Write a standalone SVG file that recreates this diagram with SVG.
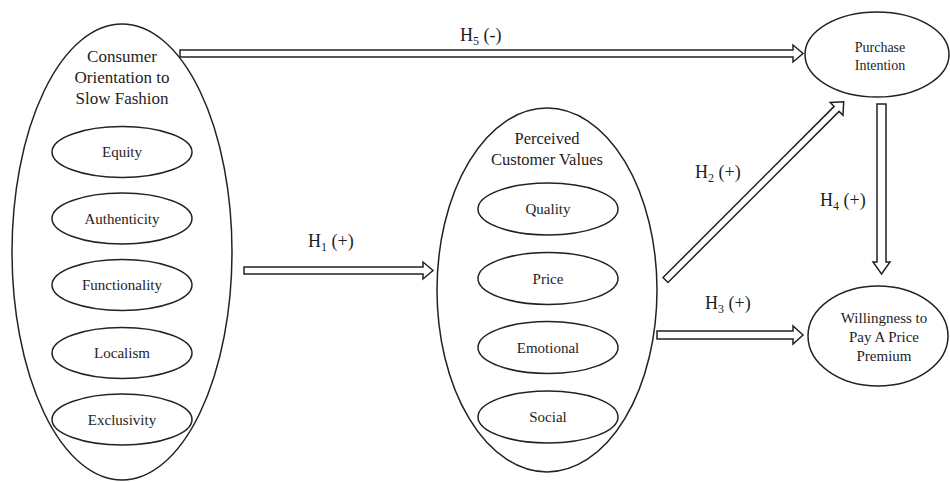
<svg xmlns="http://www.w3.org/2000/svg" width="950" height="482" viewBox="0 0 950 482">
  <style>
    .bg { fill: #ffffff; }
    .oval { fill: #ffffff; stroke: #222; stroke-width: 1.5; }
    .item { fill: none; stroke: #222; stroke-width: 1.5; }
    .arrow { fill: #ffffff; stroke: #222; stroke-width: 1.5; stroke-linejoin: miter; }
    text { font-family: "Liberation Serif", "Times New Roman", serif; fill: #1e1e1e; text-anchor: middle; }
    .title { font-size: 17px; }
    .title2 { font-size: 16.5px; }
    .lbl { font-size: 15px; }
    .small { font-size: 14px; }
    .hyp { font-size: 18px; text-anchor: start; }
    .sub { font-size: 12px; }
  </style>
  <rect class="bg" x="0" y="0" width="950" height="482"/>

  <!-- Consumer orientation construct with its five dimensions -->
  <g id="orientation">
    <ellipse class="oval" cx="122" cy="252" rx="110" ry="228"/>
    <text class="title" x="122" y="62">Consumer</text>
    <text class="title" x="122" y="83">Orientation to</text>
    <text class="title" x="122" y="104">Slow Fashion</text>
    <ellipse class="item" cx="122" cy="152" rx="70" ry="25.5"/>
    <text class="lbl" x="122" y="157">Equity</text>
    <ellipse class="item" cx="122" cy="218.5" rx="70" ry="25.5"/>
    <text class="lbl" x="122" y="223.5">Authenticity</text>
    <ellipse class="item" cx="122" cy="285" rx="70" ry="25.5"/>
    <text class="lbl" x="122" y="290">Functionality</text>
    <ellipse class="item" cx="122" cy="353" rx="70" ry="25.5"/>
    <text class="lbl" x="122" y="358">Localism</text>
    <ellipse class="item" cx="122" cy="419.5" rx="70" ry="25.5"/>
    <text class="lbl" x="122" y="424.5">Exclusivity</text>
  </g>

  <!-- Perceived customer values with four dimensions -->
  <g id="values">
    <ellipse class="oval" cx="547" cy="290" rx="110" ry="182"/>
    <text class="title2" x="547" y="144">Perceived</text>
    <text class="title2" x="547" y="165">Customer Values</text>
    <ellipse class="item" cx="548" cy="209" rx="70" ry="26"/>
    <text class="lbl" x="548" y="214">Quality</text>
    <ellipse class="item" cx="548" cy="278.5" rx="70" ry="26"/>
    <text class="lbl" x="548" y="283.5">Price</text>
    <ellipse class="item" cx="548" cy="347.5" rx="70" ry="26"/>
    <text class="lbl" x="548" y="352.5">Emotional</text>
    <ellipse class="item" cx="548" cy="417" rx="70" ry="26"/>
    <text class="lbl" x="548" y="422">Social</text>
  </g>

  <!-- Outcome: purchase intention -->
  <g id="purchase">
    <ellipse class="oval" cx="877" cy="54.5" rx="72" ry="42.5"/>
    <text class="small" x="880" y="52">Purchase</text>
    <text class="small" x="880" y="70">Intention</text>
  </g>

  <!-- Outcome: willingness to pay a premium -->
  <g id="willingness">
    <ellipse class="oval" cx="878" cy="336" rx="70" ry="50"/>
    <text class="lbl" x="884" y="323">Willingness to</text>
    <text class="lbl" x="884" y="342">Pay A Price</text>
    <text class="lbl" x="884" y="361">Premium</text>
  </g>

  <!-- Hypothesis paths drawn as hollow block arrows -->
  <g id="connectors">
    <polygon class="arrow" points="180,50 793,50 793,45 803,53.5 793,62 793,57 180,57"/>
    <polygon class="arrow" points="244,267 423,267 423,262 433,270.5 423,279 423,274 244,274"/>
    <polygon class="arrow" points="657,331 793,331 793,326 803,335 793,344 793,339 657,339"/>
    <polygon class="arrow" points="877,104 886,104 886,262 890,262 881.5,274 873,262 877,262"/>
    <polygon class="arrow" transform="translate(665.5,280) rotate(-45)" points="0,-3.5 242,-3.5 242,-9 252,0 242,9 242,3.5 0,3.5"/>

    <text class="hyp" x="460" y="41">H<tspan class="sub" dy="4">5</tspan><tspan dy="-4"> (-)</tspan></text>
    <text class="hyp" x="308" y="247">H<tspan class="sub" dy="4">1</tspan><tspan dy="-4"> (+)</tspan></text>
    <text class="hyp" x="695" y="178">H<tspan class="sub" dy="4">2</tspan><tspan dy="-4"> (+)</tspan></text>
    <text class="hyp" x="705" y="309">H<tspan class="sub" dy="4">3</tspan><tspan dy="-4"> (+)</tspan></text>
    <text class="hyp" x="820" y="206">H<tspan class="sub" dy="4">4</tspan><tspan dy="-4"> (+)</tspan></text>
  </g>
</svg>
